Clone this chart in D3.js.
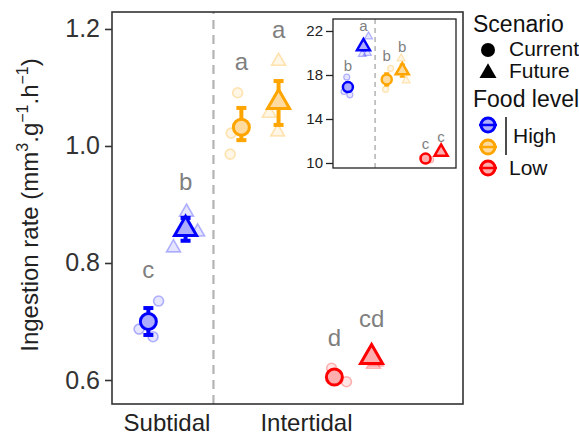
<!DOCTYPE html>
<html><head><meta charset="utf-8">
<script src="https://cdn.jsdelivr.net/npm/d3@7"></script>
<style>body{margin:0;background:#fff}svg{display:block;font-family:"Liberation Sans",Arial,sans-serif}</style>
</head><body><svg id="c" width="579" height="438"></svg>
<script>
// ---- data ----
const xLabels = ["Subtidal", "Intertidal"];
const xLabelPos = [1, 2.5];
const groupPos = [1, 2, 3];                 // Subtidal-High, Intertidal-High, Intertidal-Low
const foodLevel = ["High", "High", "Low"];
const scenarios = ["Current", "Future"];
const yTicks = [0.6, 0.8, 1.0, 1.2];

const meanCurrent = [0.700, 1.032, 0.605];
const meanFuture  = [0.858, 1.075, 0.639];
const lowCurrent  = [0.677, 1.010, 0.597];
const highCurrent = [0.723, 1.065, 0.613];
const lowFuture   = [0.838, 1.036, 0.631];
const highFuture  = [0.877, 1.111, 0.647];
const rawCurrent  = [[0.735, 0.687, 0.674], [1.091, 1.022, 0.986], [0.620, 0.597, 0.603]];
const jitCurrent  = [[0.11, -0.10, 0.05], [-0.04, -0.11, -0.12], [-0.03, 0.13, 0.02]];
const rawFuture   = [[0.887, 0.826, 0.853], [1.145, 1.056, 1.024], [0.631, 0.627, 0.643]];
const jitFuture   = [[0.01, -0.13, 0.13], [0.0, -0.10, -0.01], [0.05, 0.02, -0.02]];
const lettersCurrent = ["c", "a", "d"];
const letterYCurrent = [0.774, 1.130, 0.658];
const lettersFuture  = ["b", "a", "cd"];
const letterYFuture  = [0.925, 1.185, 0.691];

// inset
const insetTicks = [10, 14, 18, 22];
const inMeanCurrent = [16.9, 17.6, 10.4];
const inMeanFuture  = [20.6, 18.4, 11.0];
const inErrCurrent  = [0.4, 0.55, 0.15];
const inErrFuture   = [0.35, 0.55, 0.15];
const inRawCurrent  = [[17.8, 16.5, 16.2], [18.6, 16.7], [10.3, 10.5]];
const inJitCurrent  = [[-0.03, -0.10, 0.05], [0.10, -0.03], [0.13, -0.08]];
const inRawFuture   = [[21.5, 20.0, 19.9], [19.5, 17.5], [10.8, 11.1]];
const inJitFuture   = [[0.13, 0.10, -0.03], [-0.03, 0.10], [0.08, -0.05]];
const inLettersCurrent = ["b", "b", "c"];
const inLetterYCurrent = [18.36, 19.27, 11.27];
const inLettersFuture  = ["a", "b", "c"];
const inLetterYFuture  = [22.0, 20.1, 11.9];

const lineColors = ["#0000ff", "#ffa500", "#ff0000"];
const fillColors = ["#adadff", "#ffdba0", "#ffadad"];
const legendFood = ["High", "Low"];

// ---- drawing ----
const svg = d3.select("#c");
const dodge = 0.2;

function triPath(cx, cy, side) {
  const h = side * Math.sqrt(3) / 2;
  return `M${cx},${cy - 2*h/3}L${cx + side/2},${cy + h/3}L${cx - side/2},${cy + h/3}Z`;
}

function drawPanel(g, x, y, opt) {
  g.append("line").attr("x1", x(1.5)).attr("x2", x(1.5))
    .attr("y1", y.range()[0]).attr("y2", y.range()[1])
    .attr("stroke", "#b3b3b3").attr("stroke-width", opt.dashW).attr("stroke-dasharray", opt.dash);

  groupPos.forEach((gp, i) => {
    const col = lineColors[i], fill = fillColors[i];
    const sets = [
      {pos: gp - dodge, mean: opt.meanC[i], lo: opt.loC[i], hi: opt.hiC[i], raw: opt.rawC[i], jit: opt.jitC[i], shape: "circle", lab: opt.labC[i], labY: opt.labYC[i]},
      {pos: gp + dodge, mean: opt.meanF[i], lo: opt.loF[i], hi: opt.hiF[i], raw: opt.rawF[i], jit: opt.jitF[i], shape: "tri", lab: opt.labF[i], labY: opt.labYF[i]}
    ];
    sets.forEach(s => {
      s.raw.forEach((v, k) => {
        const cx = x(s.pos + s.jit[k]), cy = y(v);
        if (s.shape === "circle") {
          g.append("circle").attr("cx", cx).attr("cy", cy).attr("r", opt.rawR)
            .attr("fill", col).attr("fill-opacity", 0.1)
            .attr("stroke", col).attr("stroke-opacity", 0.28).attr("stroke-width", opt.rawSW);
        } else {
          g.append("path").attr("d", triPath(cx, cy, opt.rawTri))
            .attr("fill", col).attr("fill-opacity", 0.1)
            .attr("stroke", col).attr("stroke-opacity", 0.28).attr("stroke-width", opt.rawSW);
        }
      });
      const cx = x(s.pos);
      g.append("line").attr("x1", cx).attr("x2", cx).attr("y1", y(s.lo)).attr("y2", y(s.hi))
        .attr("stroke", col).attr("stroke-width", opt.ebW);
      [s.lo, s.hi].forEach(v => g.append("line").attr("x1", cx - opt.capW/2).attr("x2", cx + opt.capW/2)
        .attr("y1", y(v)).attr("y2", y(v)).attr("stroke", col).attr("stroke-width", opt.ebW));
      if (s.shape === "circle") {
        g.append("circle").attr("cx", cx).attr("cy", y(s.mean)).attr("r", opt.meanR)
          .attr("fill", fill).attr("stroke", col).attr("stroke-width", opt.meanSW);
      } else {
        g.append("path").attr("d", triPath(cx, y(s.mean), opt.meanTri))
          .attr("fill", fill).attr("stroke", col).attr("stroke-width", opt.meanSW).attr("stroke-linejoin", "miter");
      }
      g.append("text").attr("x", cx).attr("y", y(s.labY)).attr("text-anchor", "middle")
        .attr("font-size", opt.labFS).attr("fill", "#7f7f7f").text(s.lab);
    });
  });
}

// main panel
const x = d3.scaleLinear().domain([0.409, 4.183]).range([112, 463]);
const y = d3.scaleLinear().domain([0.559, 1.229]).range([404, 12]);
const main = svg.append("g");

drawPanel(main, x, y, {
  meanC: meanCurrent, meanF: meanFuture, loC: lowCurrent, hiC: highCurrent, loF: lowFuture, hiF: highFuture,
  rawC: rawCurrent, jitC: jitCurrent, rawF: rawFuture, jitF: jitFuture,
  labC: lettersCurrent, labYC: letterYCurrent, labF: lettersFuture, labYF: letterYFuture,
  dashW: 2.2, dash: "9,6", rawR: 5, rawSW: 1.6, rawTri: 14, ebW: 4, capW: 10, meanR: 8, meanSW: 3, meanTri: 22, labFS: 24
});

main.append("rect").attr("x", 112).attr("y", 12).attr("width", 351).attr("height", 392)
  .attr("fill", "none").attr("stroke", "#333").attr("stroke-width", 1.6);

const yAxis = main.append("g").attr("transform", "translate(112,0)")
  .call(d3.axisLeft(y).tickValues(yTicks).tickFormat(d3.format(".1f")).tickSize(7).tickPadding(5));
yAxis.select(".domain").remove();
yAxis.selectAll("line").attr("stroke", "#333").attr("stroke-width", 1.6);
yAxis.selectAll("text").attr("font-size", 25).attr("fill", "#333").attr("font-family", "Liberation Sans, Arial, sans-serif");

xLabels.forEach((l, i) => {
  main.append("text").attr("x", x(xLabelPos[i])).attr("y", 431).attr("text-anchor", "middle")
    .attr("font-size", 24).attr("fill", "#222").text(l);
});

// y title
const yt = svg.append("text").attr("transform", "translate(38,205) rotate(-90)")
  .attr("text-anchor", "middle").attr("font-size", 24).attr("fill", "#222");
yt.append("tspan").text("Ingestion rate (mm");
yt.append("tspan").attr("font-size", 16).attr("dy", -10).text("3");
yt.append("tspan").attr("dy", 10).text(".g");
yt.append("tspan").attr("font-size", 16).attr("dy", -10).text("\u22121");
yt.append("tspan").attr("dy", 10).text(".h");
yt.append("tspan").attr("font-size", 16).attr("dy", -10).text("\u22121");
yt.append("tspan").attr("dy", 10).text(")");

// inset
const ix = d3.scaleLinear().domain([0.416, 3.584]).range([333, 456]);
const iy = d3.scaleLinear().domain([9.545, 23.09]).range([168, 19]);
const inset = svg.append("g");
inset.append("rect").attr("x", 333).attr("y", 19).attr("width", 123).attr("height", 149).attr("fill", "#fff");
drawPanel(inset, ix, iy, {
  meanC: inMeanCurrent, meanF: inMeanFuture,
  loC: inMeanCurrent.map((m, i) => m - inErrCurrent[i]), hiC: inMeanCurrent.map((m, i) => m + inErrCurrent[i]),
  loF: inMeanFuture.map((m, i) => m - inErrFuture[i]), hiF: inMeanFuture.map((m, i) => m + inErrFuture[i]),
  rawC: inRawCurrent, jitC: inJitCurrent, rawF: inRawFuture, jitF: inJitFuture,
  labC: inLettersCurrent, labYC: inLetterYCurrent, labF: inLettersFuture, labYF: inLetterYFuture,
  dashW: 1.5, dash: "5,4", rawR: 3, rawSW: 1.2, rawTri: 8, ebW: 2.2, capW: 5, meanR: 5, meanSW: 2.5, meanTri: 13, labFS: 15
});
inset.append("rect").attr("x", 333).attr("y", 19).attr("width", 123).attr("height", 149)
  .attr("fill", "none").attr("stroke", "#222").attr("stroke-width", 1.3);
const iAxis = inset.append("g").attr("transform", "translate(333,0)")
  .call(d3.axisLeft(iy).tickValues(insetTicks).tickSize(7).tickPadding(3));
iAxis.select(".domain").remove();
iAxis.selectAll("line").attr("stroke", "#222").attr("stroke-width", 1.3);
iAxis.selectAll("text").attr("font-size", 15).attr("fill", "#222").attr("font-family", "Liberation Sans, Arial, sans-serif");

// legend
const lg = svg.append("g");
lg.append("text").attr("x", 473).attr("y", 32).attr("font-size", 23).attr("fill", "#111").text("Scenario");
lg.append("circle").attr("cx", 488).attr("cy", 50).attr("r", 7).attr("fill", "#000");
lg.append("text").attr("x", 509).attr("y", 56).attr("font-size", 21).attr("fill", "#111").text(scenarios[0]);
lg.append("path").attr("d", triPath(488, 73, 17)).attr("fill", "#000");
lg.append("text").attr("x", 509).attr("y", 78).attr("font-size", 21).attr("fill", "#111").text(scenarios[1]);
lg.append("text").attr("x", 473).attr("y", 107).attr("font-size", 23).attr("fill", "#111").text("Food level");
[125, 147, 168].forEach((cy, i) => {
  lg.append("circle").attr("cx", 488).attr("cy", cy).attr("r", 7)
    .attr("fill", fillColors[i]).attr("stroke", lineColors[i]).attr("stroke-width", 3);
  lg.append("line").attr("x1", 479).attr("x2", 497).attr("y1", cy).attr("y2", cy)
    .attr("stroke", lineColors[i]).attr("stroke-width", 2.5);
});
lg.append("line").attr("x1", 506).attr("x2", 506).attr("y1", 117).attr("y2", 155).attr("stroke", "#111").attr("stroke-width", 1.5);
lg.append("text").attr("x", 513).attr("y", 143).attr("font-size", 21).attr("fill", "#111").text(legendFood[0]);
lg.append("text").attr("x", 509).attr("y", 175).attr("font-size", 21).attr("fill", "#111").text(legendFood[1]);
</script></body></html>
